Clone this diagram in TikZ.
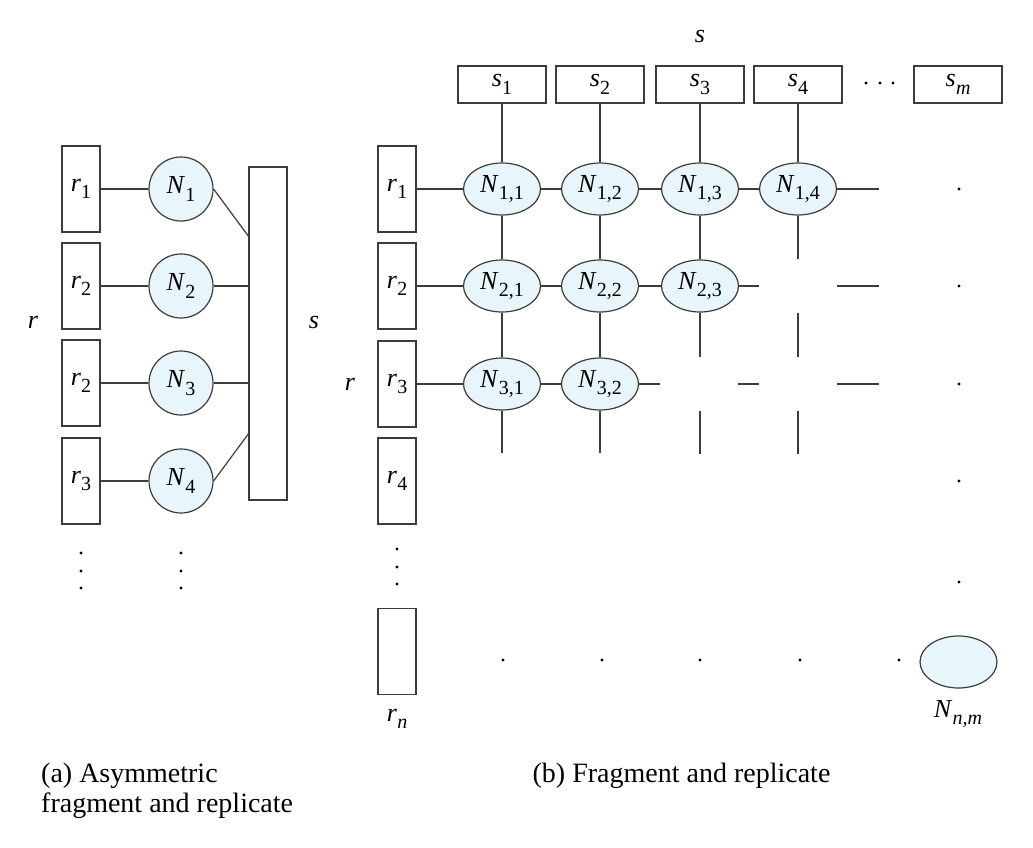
\documentclass[tikz,border=0pt]{standalone}
\usepackage{fontspec}
\setmainfont{Liberation Serif}
\usetikzlibrary{shapes.geometric,calc}
\definecolor{nodefill}{RGB}{232,245,251}
\definecolor{ln}{RGB}{60,60,60}
\newcommand{\lbl}[2]{\textit{#1}\kern0.3pt\raisebox{-0.28em}{\fontsize{20}{20}\selectfont #2}}
\begin{document}
\begin{tikzpicture}[x=1pt,y=-1pt,
  every node/.style={font=\fontsize{26}{26}\selectfont, inner sep=0pt},
  rbox/.style={draw=ln, line width=1.2pt, minimum width=38, minimum height=86},
  sbox/.style={draw=ln, line width=1.2pt, minimum width=88, minimum height=37},
  circ/.style={circle, draw=ln, line width=1.2pt, fill=nodefill, minimum size=64},
  ell/.style={ellipse, draw=ln, line width=1.2pt, fill=nodefill, minimum width=77, minimum height=52},
  conn/.style={draw=ln, line width=1.2pt},
  dotn/.style={circle, fill=black, minimum size=3.2, inner sep=0pt},
  captxt/.style={font=\fontsize{28}{28}\selectfont, anchor=base west}
]
\useasboundingbox (0,0) rectangle (1033,848);

% ---------- (a) ----------
\node[rbox] (ar1) at (81,189) {\lbl{r}{1}};
\node[rbox] (ar2) at (81,286) {\lbl{r}{2}};
\node[rbox] (ar3) at (81,383) {\lbl{r}{2}};
\node[rbox] (ar4) at (81,481) {\lbl{r}{3}};
\node[circ] (aN1) at (181,189) {\lbl{N}{1}};
\node[circ] (aN2) at (181,286) {\lbl{N}{2}};
\node[circ] (aN3) at (181,383) {\lbl{N}{3}};
\node[circ] (aN4) at (181,481) {\lbl{N}{4}};
\node[draw=ln, line width=1.2pt, minimum width=38, minimum height=333] (aS) at (268,333.5) {};
\coordinate (aS1) at (249,237);
\coordinate (aS2) at (249,286);
\coordinate (aS3) at (249,383);
\coordinate (aS4) at (249,433);
\draw[conn] (ar1) -- (aN1);
\draw[conn] (ar2) -- (aN2);
\draw[conn] (ar3) -- (aN3);
\draw[conn] (ar4) -- (aN4);
\draw[conn] (aN1.east) -- (aS1);
\draw[conn] (aN2.east) -- (aS2);
\draw[conn] (aN3.east) -- (aS3);
\draw[conn] (aN4.east) -- (aS4);
\node (ar) at (33,322) {\textit{r}};
\node (as) at (314,322) {\textit{s}};
\foreach \y [count=\i] in {553,571,588} {
  \node[dotn] (ad\i) at (81,\y) {};
  \node[dotn] (ae\i) at (181,\y) {};
}
\node[captxt] (capa) at (41,782) {(a) Asymmetric};
\node[captxt] (capa2) at (41,812) {fragment and replicate};

% ---------- (b) ----------
\node (bs) at (700,37) {\textit{s}};
\node[sbox] (s1) at (502,84.5) {\lbl{s}{1}};
\node[sbox] (s2) at (600,84.5) {\lbl{s}{2}};
\node[sbox] (s3) at (700,84.5) {\lbl{s}{3}};
\node[sbox] (s4) at (798,84.5) {\lbl{s}{4}};
\node[sbox] (sm) at (958,84.5) {\lbl{s}{\textit{m}}};
\foreach \x [count=\i] in {866,880,893} { \node[dotn] (sd\i) at (\x,83) {}; }

\node[rbox] (r1) at (397,189) {\lbl{r}{1}};
\node[rbox] (r2) at (397,286) {\lbl{r}{2}};
\node[rbox] (r3) at (397,384) {\lbl{r}{3}};
\node[rbox] (r4) at (397,481) {\lbl{r}{4}};
\node[rbox] (rn) at (397,651.5) {};
\node (rnl) at (397,719) {\lbl{r}{\textit{n}}};
\node (br) at (350,384) {\textit{r}};
\foreach \y [count=\i] in {549,567,584} { \node[dotn] (rd\i) at (397,\y) {}; }

\node[ell] (N11) at (502,189) {\lbl{N}{1,1}};
\node[ell] (N12) at (600,189) {\lbl{N}{1,2}};
\node[ell] (N13) at (700,189) {\lbl{N}{1,3}};
\node[ell] (N14) at (798,189) {\lbl{N}{1,4}};
\node[ell] (N21) at (502,286) {\lbl{N}{2,1}};
\node[ell] (N22) at (600,286) {\lbl{N}{2,2}};
\node[ell] (N23) at (700,286) {\lbl{N}{2,3}};
\node[ell] (N31) at (502,384) {\lbl{N}{3,1}};
\node[ell] (N32) at (600,384) {\lbl{N}{3,2}};
\node[ell] (Nnm) at (958.5,662) {};
\node (Nnml) at (958,714) {\lbl{N}{\textit{n,m}}};

% connectors
\draw[conn] (s1) -- (N11);
\draw[conn] (s2) -- (N12);
\draw[conn] (s3) -- (N13);
\draw[conn] (s4) -- (N14);
\draw[conn] (r1) -- (N11);
\draw[conn] (N11) -- (N12);
\draw[conn] (N12) -- (N13);
\draw[conn] (N13) -- (N14);
\draw[conn] (r2) -- (N21);
\draw[conn] (N21) -- (N22);
\draw[conn] (N22) -- (N23);
\draw[conn] (r3) -- (N31);
\draw[conn] (N31) -- (N32);
\draw[conn] (N11) -- (N21);
\draw[conn] (N12) -- (N22);
\draw[conn] (N13) -- (N23);
\draw[conn] (N21) -- (N31);
\draw[conn] (N22) -- (N32);

% stubs
\coordinate (e14) at (879,189);
\coordinate (v14) at (798,259);
\draw[conn] (N14.east) -- (e14);
\draw[conn] (N14.south) -- (v14);
\coordinate (e23) at (759,286);
\coordinate (v23) at (700,357);
\draw[conn] (N23.east) -- (e23);
\draw[conn] (N23.south) -- (v23);
\coordinate (a24) at (837,286); \coordinate (b24) at (879,286);
\draw[conn] (a24) -- (b24);
\coordinate (c24) at (798,313); \coordinate (d24) at (798,357);
\draw[conn] (c24) -- (d24);
\coordinate (e32) at (660,384);
\draw[conn] (N32.east) -- (e32);
\coordinate (a33) at (738,384); \coordinate (b33) at (759,384);
\draw[conn] (a33) -- (b33);
\coordinate (a34) at (837,384); \coordinate (b34) at (879,384);
\draw[conn] (a34) -- (b34);
\coordinate (v31) at (502,453);
\coordinate (v32) at (600,453);
\draw[conn] (N31.south) -- (v31);
\draw[conn] (N32.south) -- (v32);
\coordinate (c33) at (700,411); \coordinate (d33) at (700,454);
\draw[conn] (c33) -- (d33);
\coordinate (c34) at (798,411); \coordinate (d34) at (798,454);
\draw[conn] (c34) -- (d34);

% dots
\foreach \y [count=\i] in {189,286,384,481,582} { \node[dotn] (cd\i) at (959,\y) {}; }
\foreach \x [count=\i] in {503,602,700,800,899} { \node[dotn] (bd\i) at (\x,660) {}; }

\node[captxt, anchor=base] (capb) at (681.5,782) {(b) Fragment and replicate};
\end{tikzpicture}
\end{document}
